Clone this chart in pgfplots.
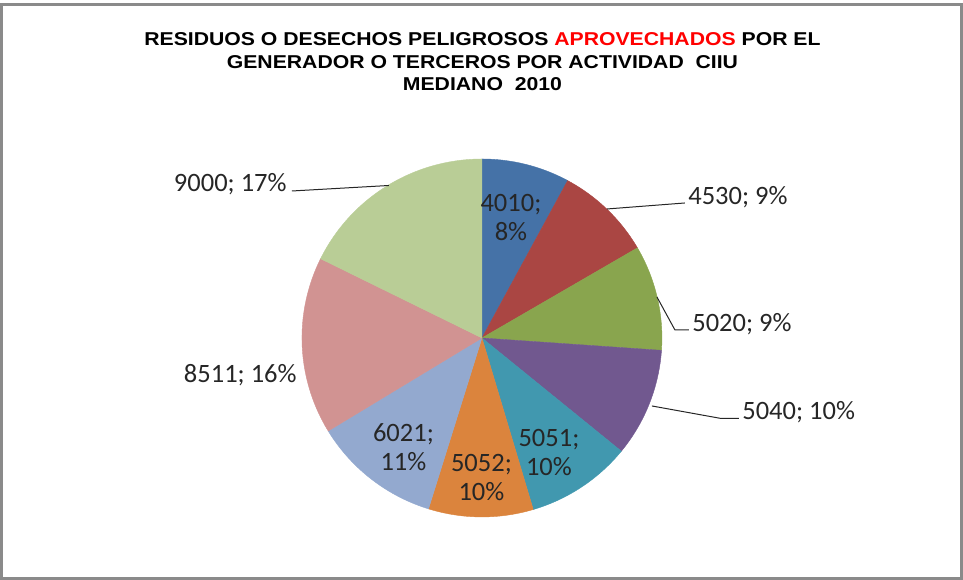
\documentclass[border=0pt]{standalone}
\usepackage{pgfplots}
\usepackage{pgfplotstable}
\pgfplotsset{compat=1.18}
\usepackage{fontspec}
\setmainfont{Carlito}
\newfontfamily\titlefont[FakeStretch=1.14]{Liberation Sans}
\definecolor{pie0}{HTML}{4572A7}
\definecolor{pie1}{HTML}{AA4643}
\definecolor{pie2}{HTML}{89A54E}
\definecolor{pie3}{HTML}{71588F}
\definecolor{pie4}{HTML}{4198AF}
\definecolor{pie5}{HTML}{DB843D}
\definecolor{pie6}{HTML}{93A9CF}
\definecolor{pie7}{HTML}{D19392}
\definecolor{pie8}{HTML}{B9CD96}
\definecolor{framegray}{HTML}{8A8A8A}
\pgfplotstableread{
code val
4010 7.9
4530 8.7
5020 9.5
5040 9.8
5051 9.5
5052 9.4
6021 11.5
8511 16.0
9000 17.7
}\piedata
\begin{document}
\begin{tikzpicture}
\begin{axis}[
  scale only axis, width=481.5pt, height=290pt,
  xmin=0, xmax=963, ymin=0, ymax=580,
  hide axis, clip=false,
]
\path (axis cs:0,0) rectangle (axis cs:963,580);
\def\cum{0}
\pgfplotsforeachungrouped \i in {0,...,8}{%
  \pgfplotstablegetelem{\i}{val}\of\piedata
  \pgfmathsetmacro\a{90-3.6*\cum}%
  \pgfmathsetmacro\cum{\cum+\pgfplotsretval}%
  \pgfmathsetmacro\b{90-3.6*\cum}%
  \edef\doslice{\noexpand\addplot[fill=pie\i, draw=pie\i, line width=0.2pt, domain=\b:\a, samples=60] ({482+180*cos(x)},{242+179*sin(x)}) -- (axis cs:482,242) -- cycle;}%
  \doslice
}
% frame
\draw[framegray, line width=1.3pt] (axis cs:1.3,1.5) rectangle (axis cs:961.8,575.7);
% title
\node[anchor=base, inner sep=0pt, font=\titlefont\bfseries\fontsize{9.3}{11}\selectfont] at (axis cs:482.5,534) {RESIDUOS O DESECHOS PELIGROSOS \textcolor{red}{APROVECHADOS} POR EL};
\node[anchor=base, inner sep=0pt, font=\titlefont\bfseries\fontsize{9.3}{11}\selectfont] at (axis cs:482.5,511) {GENERADOR O TERCEROS POR ACTIVIDAD\ \ CIIU};
\node[anchor=base, inner sep=0pt, font=\titlefont\bfseries\fontsize{9.3}{11}\selectfont] at (axis cs:482.5,489.3) {MEDIANO\ \ 2010};
% leader lines
\draw[black!85, line width=0.5pt] (axis cs:607,371) -- (axis cs:685,377);
\draw[black!85, line width=0.5pt] (axis cs:657,283) -- (axis cs:675,250) -- (axis cs:689,250);
\draw[black!85, line width=0.5pt] (axis cs:652,174) -- (axis cs:720,161.7) -- (axis cs:739,161.7);
\draw[black!85, line width=0.5pt] (axis cs:389,394.5) -- (axis cs:292,389);
% outside labels
\begin{scope}[every node/.style={inner sep=0pt, font=\fontsize{13.25}{14.5}\selectfont, text=black!85}]
\node[anchor=base west] at (axis cs:688,375) {4530; 9\%};
\node[anchor=base west] at (axis cs:692,248) {5020; 9\%};
\node[anchor=base west] at (axis cs:742,160) {5040; 10\%};
\node[anchor=base east] at (axis cs:287,388) {9000; 17\%};
\node[anchor=base east] at (axis cs:297,197) {8511; 16\%};
\node[align=center] at (axis cs:511,362.5) {4010;\\8\%};
\node[align=center] at (axis cs:549,127) {5051;\\10\%};
\node[align=center] at (axis cs:481.5,102) {5052;\\10\%};
\node[align=center] at (axis cs:403.5,132.5) {6021;\\11\%};
\end{scope}
\end{axis}
\end{tikzpicture}
\end{document}
